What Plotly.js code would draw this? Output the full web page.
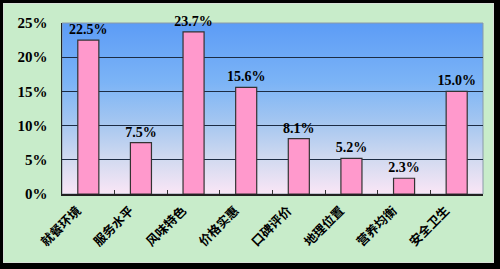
<!DOCTYPE html>
<html><head><meta charset="utf-8">
<script src="https://cdn.plot.ly/plotly-3.0.1.min.js"></script>
<style>
html,body{margin:0;padding:0;background:#000;width:500px;height:269px;overflow:hidden;}
#frame{position:absolute;left:3px;top:3px;width:489px;height:258px;border:1px solid #d8e0d8;background:#c8ecca;}
#grad{position:absolute;left:62px;top:23px;width:421px;height:171px;background:linear-gradient(to bottom,#5c9cf6 0%,#7cb4f6 35%,#a8c8f0 60%,#d2daf0 80%,#fae6f6 100%);}
#chart{position:absolute;left:0;top:0;width:500px;height:269px;}
</style></head>
<body>
<div id="frame"></div>
<div id="grad"></div>
<div id="chart"></div>
<script>
var categories = ['就餐环境','服务水平','风味特色','价格实惠','口碑评价','地理位置','营养均衡','安全卫生'];
var values = [22.5, 7.5, 23.7, 15.6, 8.1, 5.2, 2.3, 15.0];
var labels = ['22.5%','7.5%','23.7%','15.6%','8.1%','5.2%','2.3%','15.0%'];
var yTicks = [0,5,10,15,20,25];
var yTickText = ['0%','5%','10%','15%','20%','25%'];

var trace = {
  type:'bar', x:categories, y:values, text:labels,
  textposition:'outside', cliponaxis:false, constraintext:'none', textangle:0,
  textfont:{family:'Liberation Serif, Times New Roman, serif', size:14, color:'#000', weight:'bold'},
  marker:{color:'#ff99cc', line:{color:'#333333', width:1.2}},
  width:0.4, hoverinfo:'none'
};
var layout = {
  width:500, height:269,
  margin:{l:62, r:17, t:23, b:75, pad:0},
  paper_bgcolor:'rgba(0,0,0,0)', plot_bgcolor:'rgba(0,0,0,0)',
  showlegend:false, uniformtext:{mode:false},
  xaxis:{type:'category', tickson:'boundaries', ticks:'inside', ticklen:4, tickcolor:'#333',
    showline:true, linecolor:'#222', linewidth:1.5, showgrid:false, tickangle:-45, ticklabelshift:-11, ticklabelstandoff:3,
    tickfont:{family:'Noto Sans CJK SC, sans-serif', size:12.5, color:'#000', weight:'bold'}},
  yaxis:{range:[0,25], tickvals:yTicks, ticktext:yTickText, showline:true, linecolor:'#222', linewidth:1.5,
    showgrid:true, gridcolor:'#1c2c44', gridwidth:1.3, zeroline:false, ticks:'', ticklabelstandoff:10,
    tickfont:{family:'Liberation Serif, Times New Roman, serif', size:15, color:'#000', weight:'bold'}},
  shapes:[{type:'rect', xref:'paper', yref:'paper', x0:0, x1:1, y0:0, y1:1, line:{color:'#8a9aa8', width:1}, layer:'below'}]
};
Plotly.newPlot('chart',[trace],layout,{staticPlot:true,displayModeBar:false});
</script>
</body></html>
